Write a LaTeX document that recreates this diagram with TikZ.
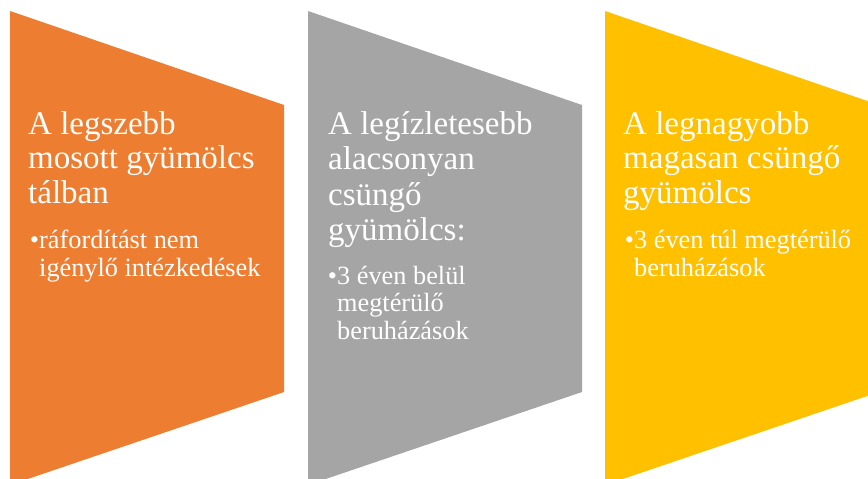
\documentclass[tikz,border=0pt]{standalone}
\usepackage{fontspec}
\setmainfont{Liberation Serif}
\definecolor{cOrange}{HTML}{ED7D31}
\definecolor{cGray}{HTML}{A5A5A5}
\definecolor{cYellow}{HTML}{FFC000}
\tikzset{
  headtxt/.style={text=white, inner sep=0pt, anchor=base west, align=left, font=\fontsize{33}{34.3}\selectfont},
  bultxt/.style={text=white, inner sep=0pt, anchor=base west, align=left, font=\fontsize{26.3}{27.2}\selectfont},
}
\newcommand{\bul}{\llap{\textbullet}}
\begin{document}
\begin{tikzpicture}[x=1pt,y=-1pt]
\useasboundingbox (0,0) rectangle (868,479);
\fill[cOrange] (10,11) -- (284,105) -- (284,392) -- (10,485) -- cycle;
\fill[cGray] (308,11) -- (582,105) -- (582,392) -- (308,485) -- cycle;
\fill[cYellow] (605,11) -- (879,105) -- (879,392) -- (605,485) -- cycle;

% base anchor of a multi-line node = baseline of its last line
\node[headtxt] (h1) at (28,203) {A legszebb\\mosott gyümölcs\\tálban};
\node[bultxt] (b1) at (39,276) {\bul ráfordítást nem\\igénylő intézkedések};

\node[headtxt, font=\fontsize{33}{35.3}\selectfont] (h2) at (328,240.5) {A legízletesebb\\alacsonyan\\csüngő\\gyümölcs:};
\node[bultxt] (b2) at (337,339) {\bul 3 éven belül\\megtérülő\\beruházások};

\node[headtxt] (h3) at (623,203) {A legnagyobb\\magasan csüngő\\gyümölcs};
\node[bultxt] (b3) at (634,276) {\bul 3 éven túl megtérülő\\beruházások};
\end{tikzpicture}
\end{document}
